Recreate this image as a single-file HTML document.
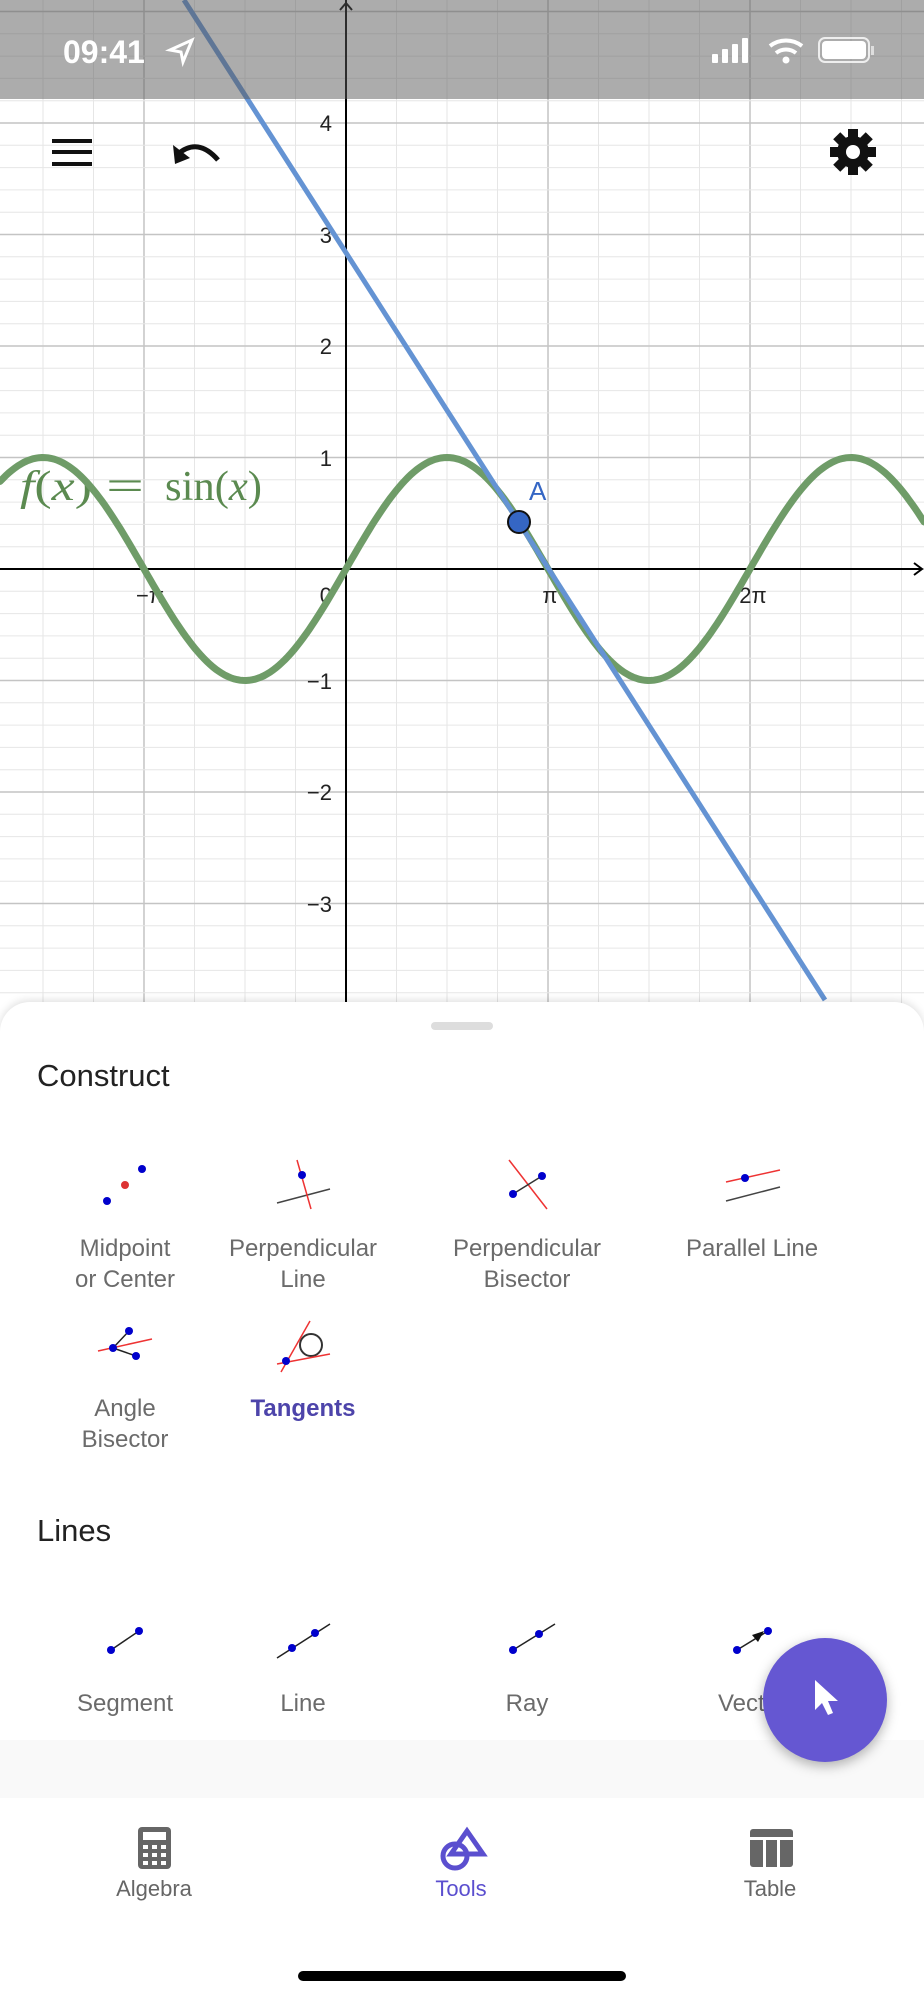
<!DOCTYPE html>
<html><head><meta charset="utf-8"><style>
body{margin:0;width:924px;height:2000px;overflow:hidden;background:#fff;font-family:"Liberation Sans",sans-serif;}
svg{position:absolute;left:0;top:0}
</style></head><body>
<svg width="924" height="2000" viewBox="0 0 924 2000">
<g id="grid"></g>
<line x1="346" y1="0" x2="346" y2="1005" stroke="#000" stroke-width="2"/>
<line x1="0" y1="569" x2="922" y2="569" stroke="#000" stroke-width="2"/>
<polyline points="340,10 346,3 352,10" fill="none" stroke="#000" stroke-width="2"/>
<polyline points="914,563 922,569 914,575" fill="none" stroke="#000" stroke-width="2"/>
<g font-size="22" fill="#222" text-anchor="end">
<text x="332" y="131">4</text><text x="332" y="243">3</text><text x="332" y="354">2</text><text x="332" y="466">1</text>
<text x="332" y="689">−1</text><text x="332" y="800">−2</text><text x="332" y="912">−3</text>
<text x="332" y="603">0</text>
</g>
<g font-size="22" fill="#222" text-anchor="middle">
<text x="150" y="603">−π</text><text x="550" y="603">π</text><text x="753" y="603">2π</text>
</g>
<g font-family="Liberation Serif,serif" font-size="42" fill="#5b8a50">
<text x="20" y="500" textLength="72" lengthAdjust="spacingAndGlyphs"><tspan font-style="italic">f</tspan>(<tspan font-style="italic">x</tspan>)</text>
<text x="106" y="500" textLength="38" lengthAdjust="spacingAndGlyphs">=</text>
<text x="165" y="500" textLength="97" lengthAdjust="spacingAndGlyphs">sin(<tspan font-style="italic">x</tspan>)</text>
</g>
<path id="sine" fill="none" stroke="#6f9c68" stroke-width="7" stroke-linecap="round"/>
<line x1="184" y1="0" x2="825" y2="1000" stroke="#6493d3" stroke-width="5"/>
<circle cx="519" cy="522" r="11" fill="#3566c4" stroke="#111" stroke-width="2"/>
<text x="529" y="500" font-size="26" fill="#3566c4">A</text>
<rect x="0" y="0" width="924" height="99" fill="rgba(90,90,90,0.5)"/>
<text x="63" y="63" font-size="32" fill="#fff" font-weight="bold">09:41</text>
<path d="M170 50 L192 40 L183 62 L181 52 Z" fill="none" stroke="#fff" stroke-width="3"/>
<rect x="712" y="54" width="6" height="9" rx="1" fill="#fff"/><rect x="722" y="49" width="6" height="14" rx="1" fill="#fff"/><rect x="732" y="44" width="6" height="19" rx="1" fill="#fff"/><rect x="742" y="38" width="6" height="25" rx="1" fill="#fff"/>
<path d="M770 46 A26 26 0 0 1 802 46" fill="none" stroke="#fff" stroke-width="4"/><path d="M776 53 A16 16 0 0 1 796 53" fill="none" stroke="#fff" stroke-width="4"/><circle cx="786" cy="60" r="3.5" fill="#fff"/>
<rect x="819" y="38" width="50" height="24" rx="6" fill="none" stroke="#fff" stroke-width="2" opacity=".8"/><rect x="822" y="41" width="44" height="18" rx="4" fill="#fff"/><rect x="871" y="46" width="3" height="9" fill="#fff" opacity=".6"/>
<rect x="52" y="139" width="40" height="4" fill="#111"/><rect x="52" y="150" width="40" height="4" fill="#111"/><rect x="52" y="162" width="40" height="4" fill="#111"/>
<path d="M178 154 Q198 137 218 160" fill="none" stroke="#111" stroke-width="5"/><path d="M173 145 L175 164 L190 158 Z" fill="#111"/>
<g transform="translate(853,152)"><circle r="16" fill="#111"/><g fill="#111"><rect x="-5" y="-23" width="10" height="46"/><rect x="-5" y="-23" width="10" height="46" transform="rotate(45)"/><rect x="-5" y="-23" width="10" height="46" transform="rotate(90)"/><rect x="-5" y="-23" width="10" height="46" transform="rotate(135)"/></g><circle r="7" fill="#fff"/></g>
<rect x="0" y="1002" width="924" height="1000" rx="30" fill="#fff" style="filter:drop-shadow(0 -2px 4px rgba(0,0,0,0.12))"/>
<rect x="0" y="1740" width="924" height="58" fill="#f9f9f9"/>
<rect x="0" y="1798" width="924" height="202" fill="#fff"/>
<rect x="431" y="1022" width="62" height="8" rx="4" fill="#ddd"/>
<text x="37" y="1086" font-size="31" fill="#222">Construct</text>
<text x="37" y="1541" font-size="31" fill="#222">Lines</text>
<g font-size="24" fill="#6b6b6b" text-anchor="middle">
<text x="125" y="1256">Midpoint</text><text x="125" y="1287">or Center</text>
<text x="303" y="1256">Perpendicular</text><text x="303" y="1287">Line</text>
<text x="527" y="1256">Perpendicular</text><text x="527" y="1287">Bisector</text>
<text x="752" y="1256">Parallel Line</text>
<text x="125" y="1416">Angle</text><text x="125" y="1447">Bisector</text>
<text x="303" y="1416" fill="#4d44aa" font-weight="bold">Tangents</text>
<text x="125" y="1711">Segment</text><text x="303" y="1711">Line</text><text x="527" y="1711">Ray</text><text x="752" y="1711">Vector</text>
</g>
<g stroke-width="1.5">
<g transform="translate(0,14)">
<circle cx="107" cy="1187" r="4" fill="#0000cc"/><circle cx="125" cy="1171" r="4" fill="#d33"/><circle cx="142" cy="1155" r="4" fill="#0000cc"/>
<line x1="277" y1="1189" x2="330" y2="1175" stroke="#444"/><line x1="297" y1="1146" x2="311" y2="1195" stroke="#e33"/><circle cx="302" cy="1161" r="4" fill="#0000cc"/>
<line x1="509" y1="1146" x2="547" y2="1195" stroke="#e33"/><line x1="513" y1="1180" x2="542" y2="1162" stroke="#333"/><circle cx="513" cy="1180" r="4" fill="#0000cc"/><circle cx="542" cy="1162" r="4" fill="#0000cc"/>
<line x1="726" y1="1168" x2="780" y2="1156" stroke="#e33"/><line x1="726" y1="1187" x2="780" y2="1173" stroke="#444"/><circle cx="745" cy="1164" r="4" fill="#0000cc"/>
</g>
<g transform="translate(0,26)">
<line x1="98" y1="1325" x2="152" y2="1313" stroke="#e33"/><line x1="113" y1="1322" x2="129" y2="1305" stroke="#222"/><line x1="113" y1="1322" x2="136" y2="1330" stroke="#222"/><circle cx="113" cy="1322" r="4" fill="#0000cc"/><circle cx="129" cy="1305" r="4" fill="#0000cc"/><circle cx="136" cy="1330" r="4" fill="#0000cc"/>
<circle cx="311" cy="1319" r="11" fill="none" stroke="#333" stroke-width="2"/><line x1="281" y1="1346" x2="310" y2="1295" stroke="#e33"/><line x1="277" y1="1338" x2="330" y2="1328" stroke="#e33"/><circle cx="286" cy="1335" r="4" fill="#0000cc"/>
</g>
<g transform="translate(0,49)">
<line x1="111" y1="1601" x2="139" y2="1582" stroke="#222"/><circle cx="111" cy="1601" r="4" fill="#0000cc"/><circle cx="139" cy="1582" r="4" fill="#0000cc"/>
<line x1="277" y1="1609" x2="330" y2="1575" stroke="#222"/><circle cx="292" cy="1599" r="4" fill="#0000cc"/><circle cx="315" cy="1584" r="4" fill="#0000cc"/>
<line x1="513" y1="1601" x2="555" y2="1575" stroke="#222"/><circle cx="513" cy="1601" r="4" fill="#0000cc"/><circle cx="539" cy="1585" r="4" fill="#0000cc"/>
<line x1="737" y1="1601" x2="768" y2="1582" stroke="#222"/><path d="M752 1586 L764 1582 L758 1593Z" fill="#111"/><circle cx="737" cy="1601" r="4" fill="#0000cc"/><circle cx="768" cy="1582" r="4" fill="#0000cc"/>
</g>
</g>
<circle cx="825" cy="1700" r="62" fill="#6557d2" style="filter:drop-shadow(0 4px 6px rgba(0,0,0,0.3))"/>
<path d="M815 1680 L815 1710 L822 1703 L828 1715 L833 1713 L828 1701 L838 1701 Z" fill="#fff"/>
<g transform="translate(0,64)">
<rect x="138" y="1763" width="33" height="42" rx="4" fill="#666"/><rect x="143" y="1768" width="23" height="8" fill="#fff"/>
<g fill="#fff"><rect x="143" y="1781" width="5" height="4"/><rect x="152" y="1781" width="5" height="4"/><rect x="161" y="1781" width="5" height="4"/><rect x="143" y="1789" width="5" height="4"/><rect x="152" y="1789" width="5" height="4"/><rect x="161" y="1789" width="5" height="4"/><rect x="143" y="1797" width="5" height="4"/><rect x="152" y="1797" width="5" height="4"/><rect x="161" y="1797" width="5" height="4"/></g>
<circle cx="455" cy="1792" r="12" fill="none" stroke="#5b4fcf" stroke-width="5"/><path d="M467 1767 L483 1790 L451 1790 Z" fill="none" stroke="#5b4fcf" stroke-width="5"/>
<rect x="750" y="1765" width="43" height="38" rx="3" fill="#666"/><rect x="750" y="1773" width="43" height="3" fill="#fff"/><rect x="763" y="1776" width="3" height="27" fill="#fff"/><rect x="777" y="1776" width="3" height="27" fill="#fff"/>
</g>
<g font-size="22" text-anchor="middle"><text x="154" y="1896" fill="#666">Algebra</text><text x="461" y="1896" fill="#5b4fcf">Tools</text><text x="770" y="1896" fill="#666">Table</text></g>
<rect x="298" y="1971" width="328" height="10" rx="5" fill="#000"/>
</svg>
<script>
(function(){
var g=document.getElementById('grid'),s='',ox=346,oy=569,ux=64.3,uy=111.5,pi=Math.PI;
for(var k=-40;k<=40;k++){var x=ox+k*pi/4*ux;if(x<0||x>924)continue;var maj=k%4==0;s+='<line x1="'+x+'" y1="0" x2="'+x+'" y2="1005" stroke="'+(maj?'#c4c4c4':'#e6e6e6')+'" stroke-width="'+(maj?1.5:1)+'"/>';}
for(var k=-30;k<=30;k++){var y=oy+k*uy/5;if(y<0||y>1005)continue;var maj=k%5==0;s+='<line x1="0" y1="'+y+'" x2="924" y2="'+y+'" stroke="'+(maj?'#c4c4c4':'#e6e6e6')+'" stroke-width="'+(maj?1.5:1)+'"/>';}
g.innerHTML=s;
var d='';for(var px=0;px<=924;px+=3){var xv=(px-ox)/ux;d+=(px?'L':'M')+px+' '+(oy-uy*Math.sin(xv)).toFixed(1);}
document.getElementById('sine').setAttribute('d',d);
})();
</script>
</body></html>
